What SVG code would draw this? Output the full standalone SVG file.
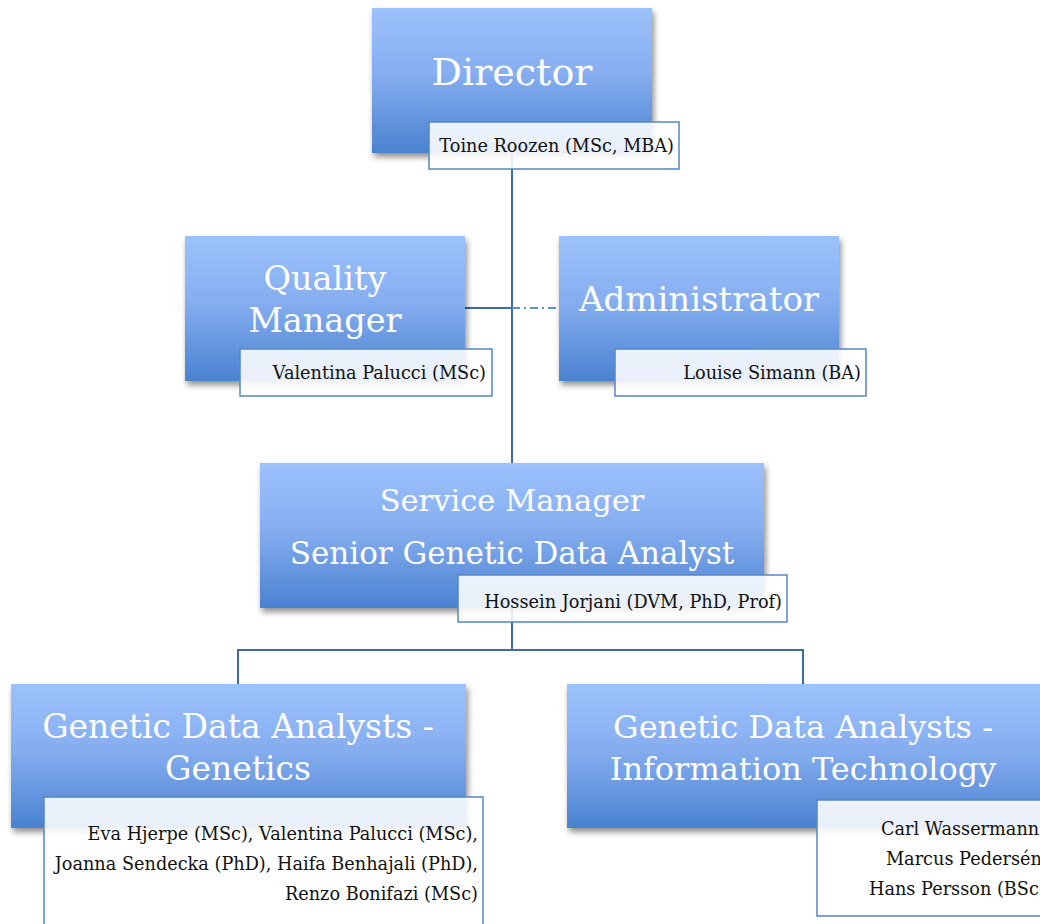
<svg xmlns="http://www.w3.org/2000/svg" width="1040" height="924" viewBox="0 0 1040 924">
<defs>
<linearGradient id="g" x1="0" y1="0" x2="0" y2="1">
<stop offset="0" stop-color="#9cc2fc"/>
<stop offset="0.45" stop-color="#86aef0"/>
<stop offset="1" stop-color="#4a82d0"/>
</linearGradient>
<filter id="sh" x="-10%" y="-10%" width="130%" height="130%">
<feGaussianBlur in="SourceAlpha" stdDeviation="3"/>
<feOffset dx="2" dy="4" result="b"/>
<feComponentTransfer><feFuncA type="linear" slope="0.45"/></feComponentTransfer>
<feMerge><feMergeNode/><feMergeNode in="SourceGraphic"/></feMerge>
</filter>
</defs>
<style>
.box{fill:url(#g);filter:url(#sh)}
.lab{fill:#ffffff;fill-opacity:0.88;stroke:#5585c4;stroke-width:1.5}
.t{font-family:"DejaVu Serif","Liberation Serif",serif;fill:#ffffff;text-anchor:middle}
.n{font-family:"DejaVu Serif","Liberation Serif",serif;fill:#111111;font-size:17.7px}
.c{fill:none;stroke:#3f6aa3;stroke-width:2}
</style>
<rect width="1040" height="924" fill="#ffffff"/>
<g id="connectors">
<line class="c" x1="512" y1="150" x2="512" y2="464"/>
<line class="c" x1="465" y1="308" x2="512" y2="308"/>
<line x1="512" y1="308" x2="559" y2="308" stroke="#5b8fd6" stroke-width="2" stroke-dasharray="8,4,2,4"/>
<line class="c" x1="512" y1="608" x2="512" y2="650"/>
<line class="c" x1="238" y1="650" x2="803" y2="650"/>
<line class="c" x1="238" y1="649" x2="238" y2="685"/>
<line class="c" x1="803" y1="649" x2="803" y2="685"/>
</g>
<g id="director">
<rect class="box" x="372" y="8" width="280" height="145"/>
<text class="t" x="512" y="85" font-size="38">Director</text>
<rect class="lab" x="429" y="122" width="250" height="47"/>
<text class="n" x="674" y="152" text-anchor="end">Toine Roozen (MSc, MBA)</text>
</g>
<g id="quality">
<rect class="box" x="185" y="236" width="280" height="145"/>
<text class="t" x="325" y="290" font-size="33.5">Quality</text>
<text class="t" x="325" y="332" font-size="33.5">Manager</text>
<rect class="lab" x="240" y="349" width="252" height="47"/>
<text class="n" x="486" y="379" text-anchor="end">Valentina Palucci (MSc)</text>
</g>
<g id="admin">
<rect class="box" x="559" y="236" width="280" height="145"/>
<text class="t" x="699" y="311" font-size="34">Administrator</text>
<rect class="lab" x="615" y="349" width="251" height="47"/>
<text class="n" x="861" y="379" text-anchor="end">Louise Simann (BA)</text>
</g>
<g id="service">
<rect class="box" x="260" y="463" width="504" height="145"/>
<text class="t" x="512" y="511" font-size="30.5">Service Manager</text>
<text class="t" x="512" y="564" font-size="31">Senior Genetic Data Analyst</text>
<rect class="lab" x="458" y="575" width="329" height="47"/>
<text class="n" x="782" y="608" text-anchor="end">Hossein Jorjani (DVM, PhD, Prof)</text>
</g>
<g id="genetics">
<rect class="box" x="11" y="684" width="455" height="144"/>
<text class="t" x="238" y="738" font-size="33">Genetic Data Analysts -</text>
<text class="t" x="238" y="780" font-size="33">Genetics</text>
<rect class="lab" x="44" y="797" width="439" height="140"/>
<text class="n" x="478" y="840" text-anchor="end">Eva Hjerpe (MSc), Valentina Palucci (MSc),</text>
<text class="n" x="478" y="870" text-anchor="end">Joanna Sendecka (PhD), Haifa Benhajali (PhD),</text>
<text class="n" x="478" y="900" text-anchor="end">Renzo Bonifazi (MSc)</text>
</g>
<g id="it">
<rect class="box" x="567" y="684" width="490" height="144"/>
<text class="t" x="803" y="738" font-size="32">Genetic Data Analysts -</text>
<text class="t" x="803" y="780" font-size="32">Information Technology</text>
<rect class="lab" x="817" y="800" width="240" height="116"/>
<text class="n" x="881" y="835">Carl Wassermann</text>
<text class="n" x="886" y="865">Marcus Pedersén</text>
<text class="n" x="869" y="895">Hans Persson (BSc)</text>
</g>
</svg>
